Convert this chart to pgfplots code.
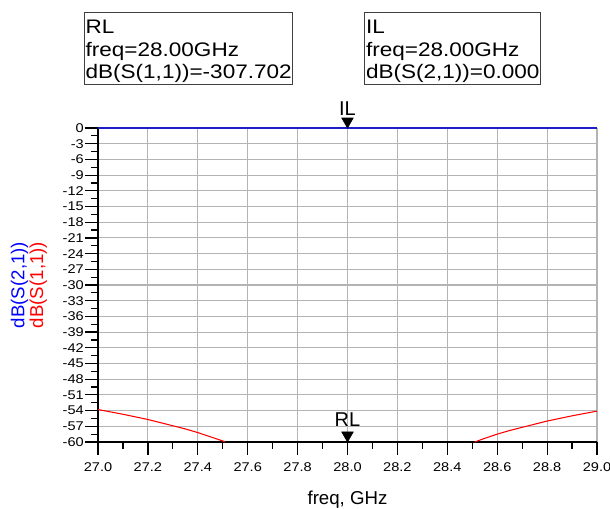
\documentclass[border=0pt]{standalone}
\usepackage{pgfplots}
\pgfplotsset{compat=1.18}
\usepackage{fontspec}
\setmainfont{Liberation Sans}
\newfontfamily\wide{Liberation Sans}[FakeStretch=1.15]
\definecolor{s21}{RGB}{30,30,200}
\definecolor{s11}{RGB}{255,0,0}
\definecolor{gridc}{RGB}{180,180,180}

\begin{document}
\begin{tikzpicture}
\begin{axis}[
  at={(0,0)}, anchor=south west,
  scale only axis,
  width=374.25pt, height=235.5pt,
  xmin=27, xmax=29, ymin=-60, ymax=0,
  xtick={27,27.2,27.4,27.6,27.8,28,28.2,28.4,28.6,28.8,29},
  ytick={-60,-57,-54,-51,-48,-45,-42,-39,-36,-33,-30,-27,-24,-21,-18,-15,-12,-9,-6,-3,0},
  minor x tick num=1, minor y tick num=1,
  axis x line*=bottom, axis y line*=left,
  axis line style={-, black, line width=1pt},
  tick align=outside,
  major tick length=9.5pt, minor tick length=5pt,
  tick style={black, line width=0.9pt},
  grid=major,
  major grid style={draw=gridc, line width=0.8pt},
  /pgf/number format/assume math mode=true,
  tick label style={font=\wide\fontsize{9.5}{11}\selectfont},
  xticklabel style={/pgf/number format/.cd, fixed, fixed zerofill, precision=1, /tikz/.cd, inner sep=1pt, yshift=-5pt},
  yticklabel style={inner sep=1pt},
  xlabel={freq, GHz},
  xlabel style={at={(axis description cs:0.5,-0.2006)}, anchor=base, font=\fontsize{14}{16}\selectfont},
  ylabel={\textcolor{blue}{dB(S(2,1))}\\\textcolor{red}{dB(S(1,1))}},
  ylabel style={at={(axis description cs:-0.1383,0.5)}, anchor=center, align=center, font=\fontsize{14}{11.6}\selectfont},
  clip=false,
]

% dB(S(2,1))
\addplot[s21, line width=1.7pt] coordinates {(27,0) (29,0)};

% dB(S(1,1)), visible parts above -60
\addplot[s11, line width=0.8pt] coordinates {
  (27.00,-53.8) (27.05,-54.25) (27.10,-54.7) (27.15,-55.2) (27.20,-55.7)
  (27.25,-56.3) (27.30,-56.9) (27.35,-57.5) (27.40,-58.2) (27.45,-59.0)
  (27.50,-59.8) (27.51,-60.0)
};
\addplot[s11, line width=0.8pt] coordinates {
  (28.51,-60.0) (28.55,-59.3) (28.60,-58.5) (28.65,-57.8) (28.70,-57.2)
  (28.75,-56.6) (28.80,-56.0) (28.85,-55.5) (28.90,-55.0) (28.95,-54.55)
  (29.00,-54.1)
};

% markers
\addplot[only marks, mark=triangle*, mark size=5pt,
  mark options={fill=black, draw=black, yshift=5pt, rotate=180}]
  coordinates {(28,0) (28,-60)};

\node[anchor=base, font=\fontsize{15}{17}\selectfont] at (axis cs:28,0) [yshift=9.75pt] {IL};
\node[anchor=base, font=\fontsize{15}{17}\selectfont] at (axis cs:28,-60) [yshift=11.5pt] {RL};
\end{axis}

% marker readouts
\node[draw=black!75, line width=0.8pt, anchor=north west, inner xsep=0.8pt, inner ysep=0pt,
  align=left, font=\wide\fontsize{14.7}{16.9}\selectfont]
  at (-10.5pt,322.7pt)
  {\rule{0pt}{16.2pt}RL\\freq=28.00GHz\\dB(S(1,1))=-307.702\rule[-4.5pt]{0pt}{4.5pt}};
\node[draw=black!75, line width=0.8pt, anchor=north west, inner xsep=0.8pt, inner ysep=0pt,
  align=left, font=\wide\fontsize{14.7}{16.9}\selectfont]
  at (199.8pt,322.7pt)
  {\rule{0pt}{16.2pt}IL\\freq=28.00GHz\\dB(S(2,1))=0.000\rule[-4.5pt]{0pt}{4.5pt}};

\pgfresetboundingbox
\useasboundingbox (-73.5pt,-50.25pt) rectangle (384pt,331.5pt);
\end{tikzpicture}
\end{document}
